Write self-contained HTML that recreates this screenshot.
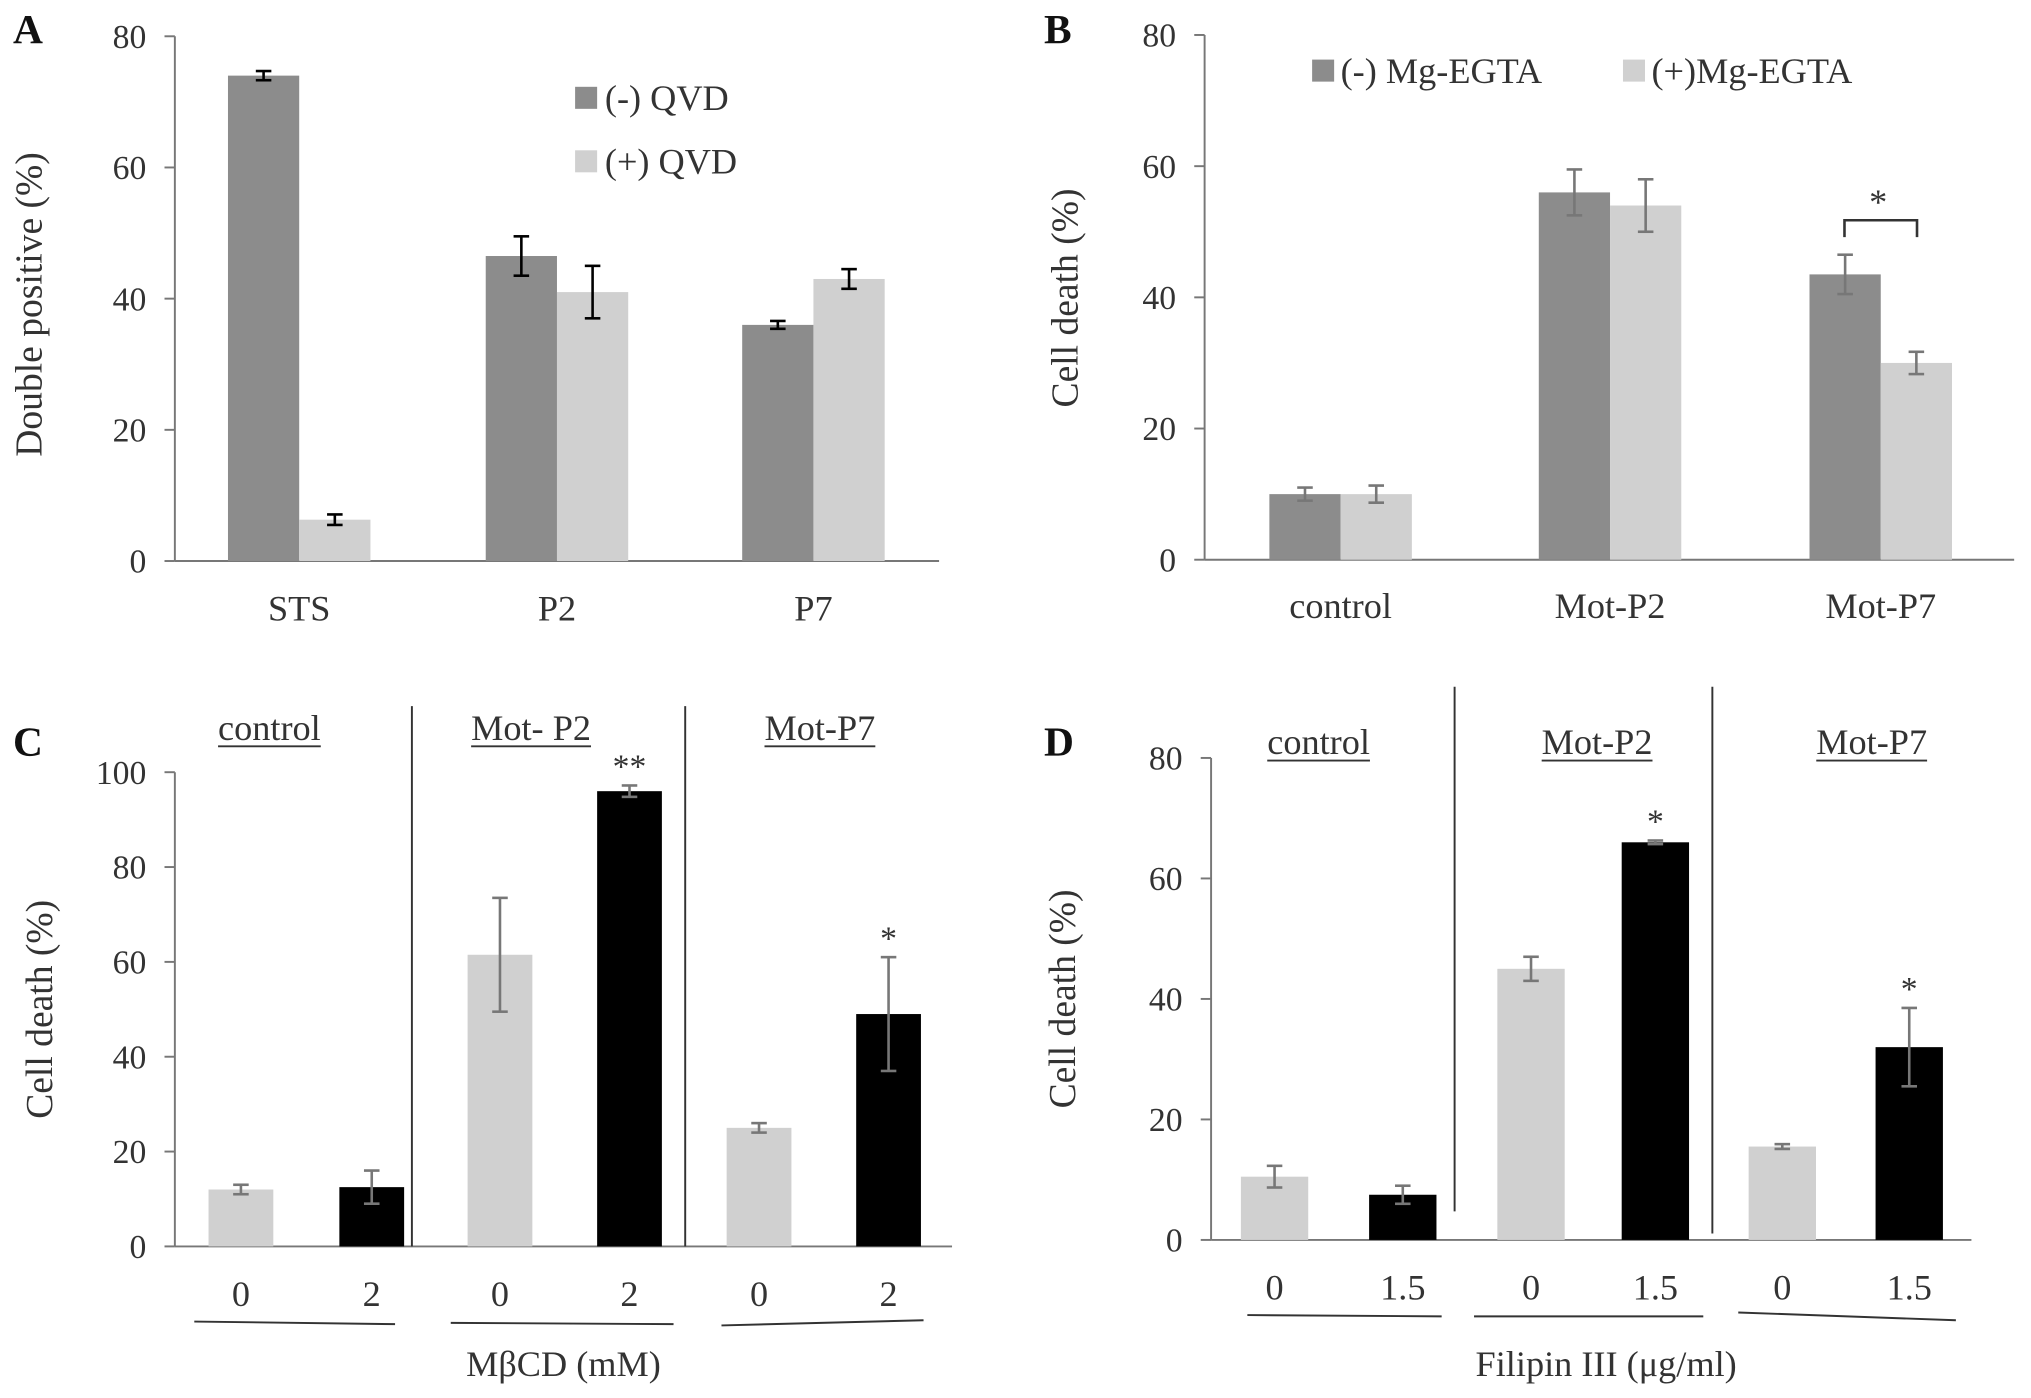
<!DOCTYPE html>
<html><head><meta charset="utf-8"><style>
html,body{margin:0;padding:0;background:#fff;}
svg{display:block;font-family:"Liberation Serif",serif;}
</style></head><body>
<svg id="fig" width="2031" height="1398" viewBox="0 0 1568 1079" preserveAspectRatio="none" xmlns="http://www.w3.org/2000/svg">
<g id="root"></g>
</svg>
<script>
// Panel A data
const catsA = ["STS","P2","P7"];
const aNeg = [74,46.5,36];
const aNegErr = [0.7,3,0.6];
const aPos = [6.3,41,43];
const aPosErr = [0.8,4,1.5];
const ticksA = [0,20,40,60,80];
// Panel B data
const catsB = ["control","Mot-P2","Mot-P7"];
const bNeg = [10,56,43.5];
const bNegErr = [1,3.5,3];
const bPos = [10,54,30];
const bPosErr = [1.3,4,1.7];
const ticksB = [0,20,40,60,80];
// Panel C data
const groupsC = ["control","Mot- P2","Mot-P7"];
const doseC = ["0","2"];
const cCtrl = [12,61.5,25];
const cCtrlErr = [1,12,1];
const cTreat = [12.5,96,49];
const cTreatErr = [3.5,1.2,12];
const ticksC = [0,20,40,60,80,100];
// Panel D data
const groupsD = ["control","Mot-P2","Mot-P7"];
const doseD = ["0","1.5"];
const dCtrl = [10.5,45,15.5];
const dCtrlErr = [1.8,2,0.4];
const dTreat = [7.5,66,32];
const dTreatErr = [1.5,0.3,6.5];
const ticksD = [0,20,40,60,80];

const NS="http://www.w3.org/2000/svg";
const root=document.getElementById('root');
function el(tag,attrs,parent){const e=document.createElementNS(NS,tag);for(const k in attrs)e.setAttribute(k,attrs[k]);(parent||root).appendChild(e);return e;}
function txt(x,y,s,size,anchor,parent,extra){const t=el('text',Object.assign({x:x,y:y,'font-size':size,'text-anchor':anchor||'middle',fill:'#333'},extra||{}),parent);t.textContent=s;return t;}

function axes(g,x0,x1,y0,yTop,maxV,ticks){
  const ys=v=>y0-(v/maxV)*(y0-yTop);
  const ax=el('line',{x1:x0,y1:y0,x2:x0,y2:yTop,stroke:'#777','stroke-width':1.5},g);
  
  
  const bx=el('line',{x1:x0,y1:y0,x2:x1,y2:y0,stroke:'#777','stroke-width':1.5},g);
  
  
  ticks.forEach(v=>{
    el('line',{x1:x0-8,x2:x0,y1:ys(v),y2:ys(v),stroke:'#777','stroke-width':1.5},g);
    const t=txt(x0-22,ys(v)+9,String(v),26,'end',g);
    
    
  });
  return ys;
}
function bar(g,cx,w,v,err,ys,color,errColor,name){
  const r=el('rect',{x:cx-w/2,y:ys(v),width:w,height:ys(0)-ys(v),fill:color},g);
  
  
  const e=el('g',{stroke:errColor,'stroke-width':2},g);
  
  
  el('line',{x1:cx,x2:cx,y1:ys(v+err),y2:ys(v-err)},e);
  el('line',{x1:cx-6,x2:cx+6,y1:ys(v+err),y2:ys(v+err)},e);
  el('line',{x1:cx-6,x2:cx+6,y1:ys(v-err),y2:ys(v-err)},e);
}
function letter(x,y,s){const t=txt(x,y,s,32,'start',root,{'font-weight':'bold',fill:'#111'});}
function ytitle(x,y,s,g){const t=txt(0,0,s,29,'middle',g,{transform:`translate(${x},${y}) rotate(-90)`});}

const DARK='#8c8c8c', LIGHT='#d0d0d0', BLACK='#000';

// Panel A
(function(){
  const g=el('g',{});  
  const ys=axes(g,135,725,433,28,80,ticksA);
  const cx=[231,430,628];
  catsA.forEach((c,i)=>{
    bar(g,cx[i]-27.5,55,aNeg[i],aNegErr[i],ys,DARK,'#000','bar-neg-qvd-'+c.toLowerCase());
    bar(g,cx[i]+27.5,55,aPos[i],aPosErr[i],ys,LIGHT,'#000','bar-pos-qvd-'+c.toLowerCase());
    const t=txt(cx[i],479,c,28,'middle',g);  
  });
  ytitle(32,235,'Double positive (%)',g);
  [[DARK,'(-) QVD',76],[LIGHT,'(+) QVD',125]].forEach(([c,s,y])=>{
    const lg=el('g',{},g);  
    el('rect',{x:444,y:y-9,width:17,height:17,fill:c},lg);
    txt(467,y+9,s,28,'start',lg);
  });
})();
letter(10,33,'A');

// Panel B
(function(){
  const g=el('g',{});  
  const ys=axes(g,930,1555,432,27,80,ticksB);
  const cx=[1035,1243,1452];
  catsB.forEach((c,i)=>{
    bar(g,cx[i]-27.5,55,bNeg[i],bNegErr[i],ys,DARK,'#777','bar-neg-mgegta-'+c.toLowerCase());
    bar(g,cx[i]+27.5,55,bPos[i],bPosErr[i],ys,LIGHT,'#777','bar-pos-mgegta-'+c.toLowerCase());
    const t=txt(cx[i],477,c,28,'middle',g);  
  });
  ytitle(832,230,'Cell death (%)',g);
  [[DARK,'(-) Mg-EGTA',1013],[LIGHT,'(+)Mg-EGTA',1253]].forEach(([c,s,x])=>{
    const lg=el('g',{},g);  
    el('rect',{x:x,y:46,width:17,height:17,fill:c},lg);
    txt(x+22,64,s,28,'start',lg);
  });
  const br=el('path',{d:'M1424,183 L1424,170 L1480,170 L1480,183',fill:'none',stroke:'#333','stroke-width':2},g);
   
  const s=txt(1450,165,'*',28,'middle',g);  
})();
letter(806,33,'B');

function dosePanel(name,x0,x1,y0,yTop,maxV,ticks,groups,doses,ctrl,ctrlErr,treat,treatErr,cl,ct,w,dividers,divTop,titleX,titleY,stars,doseY,ulines,xlabel,xlabelX){
  const g=el('g',{});  
  const ys=axes(g,x0,x1,y0,yTop,maxV,ticks);
  groups.forEach((gr,i)=>{
    bar(g,cl[i],w,ctrl[i],ctrlErr[i],ys,LIGHT,'#777','bar-dose0-'+i);
    bar(g,ct[i],w,treat[i],treatErr[i],ys,BLACK,'#777','bar-dose-treated-'+i);
    const t=txt(titleX[i],titleY,gr,28,'middle',g);  
    const L=t.getComputedTextLength();
    el('line',{x1:titleX[i]-L/2,x2:titleX[i]+L/2,y1:titleY+5,y2:titleY+5,stroke:'#333','stroke-width':1.5},g);
    const a=txt(cl[i],doseY,doses[0],28,'middle',g);  
    const b=txt(ct[i],doseY,doses[1],28,'middle',g);  
    if(stars[i]){const s=txt(ct[i],ys(treat[i]+treatErr[i])-6,stars[i],26,'middle',g);  }
    const u=ulines[i]; const ln=el('line',{x1:u[0],y1:u[1],x2:u[2],y2:u[3],stroke:'#333','stroke-width':1.5},g);
     
  });
  dividers.forEach(d=>{const l=el('line',{x1:d[0],x2:d[0],y1:divTop,y2:d[1],stroke:'#333','stroke-width':1.5},g);});
  const xl=txt(xlabelX,1062,xlabel,28,'middle',g);  
  return g;
}
const gc=dosePanel('panel-c',135,735,962,596,100,ticksC,groupsC,doseC,cCtrl,cCtrlErr,cTreat,cTreatErr,[186,386,586],[287,486,686],50,[[318,962],[529,962]],545,[208,410,633],571,['','**','*'],1008,[[150,1020,305,1022],[348,1021,520,1022],[557,1023,713,1019]],'MβCD (mM)',435);
ytitle(40,779,'Cell death (%)',gc);
letter(10,583,'C');
const gd=dosePanel('panel-d',935,1522,957,585,80,ticksD,groupsD,doseD,dCtrl,dCtrlErr,dTreat,dTreatErr,[984,1182,1376],[1083,1278,1474],52,[[1123,935],[1322,952]],530,[1018,1233,1445],582,['','*','*'],1003,[[963,1015,1113,1016],[1138,1016,1315,1016],[1342,1013,1510,1019]],'Filipin III (μg/ml)',1240);
ytitle(830,771,'Cell death (%)',gd);
letter(806,583,'D');
</script>
</body></html>
